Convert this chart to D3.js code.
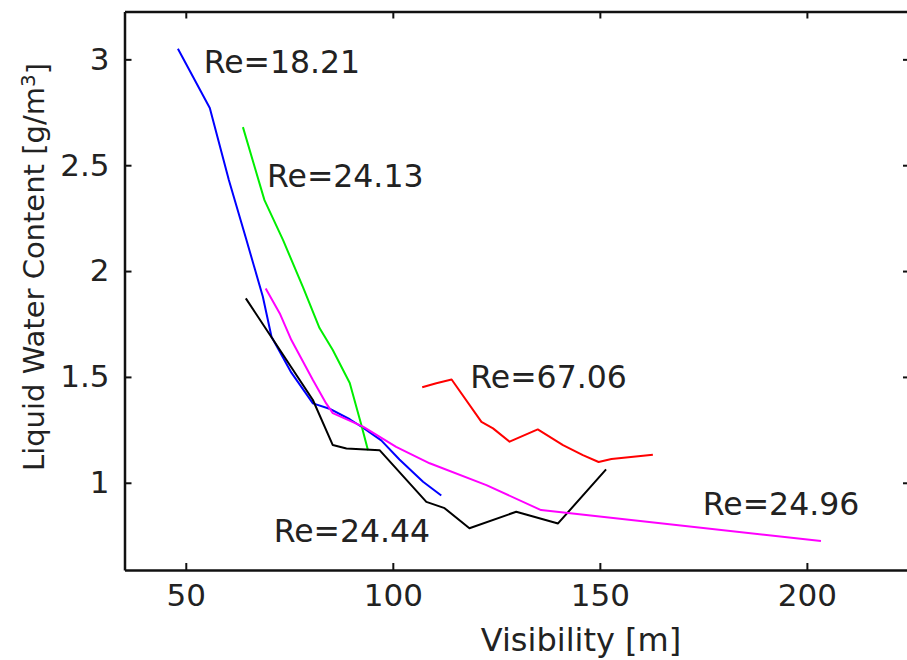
<!DOCTYPE html>
<html>
<head>
<meta charset="utf-8">
<script src="https://cdn.jsdelivr.net/npm/d3@7"></script>
<style>
  html, body { margin: 0; padding: 0; background: #fff; }
  svg { display: block; }
  text { font-family: "DejaVu Sans", sans-serif; fill: #222; }
</style>
</head>
<body>
<div id="chart"></div>
<script>
// ---- data ----
const xTicks = [50, 100, 150, 200];
const yTicks = [1, 1.5, 2, 2.5, 3];
const xTickLabels = ["50", "100", "150", "200"];
const yTickLabels = ["1", "1.5", "2", "2.5", "3"];

const seriesNames = ["Re=18.21", "Re=24.13", "Re=24.44", "Re=24.96", "Re=67.06"];

const visRe1821 = [48.1, 55.8, 60.4, 64.6, 68.6, 70.7, 75.5, 80.7, 84.7, 89.6, 92.8, 97.2, 101.6, 107.3, 111.7];
const lwcRe1821 = [3.05, 2.77, 2.43, 2.15, 1.88, 1.69, 1.52, 1.375, 1.35, 1.30, 1.26, 1.20, 1.11, 1.005, 0.94];

const visRe2413 = [63.8, 69.0, 73.5, 78.3, 82.3, 85.5, 89.6, 92.4, 94.0];
const lwcRe2413 = [2.68, 2.335, 2.146, 1.924, 1.731, 1.627, 1.471, 1.273, 1.154];

const visRe2444 = [64.5, 80.7, 85.5, 88.8, 96.8, 108.1, 112.5, 118.5, 129.8, 139.9, 151.5];
const lwcRe2444 = [1.871, 1.391, 1.178, 1.162, 1.154, 0.91, 0.88, 0.785, 0.863, 0.808, 1.063];

const visRe2496 = [69.3, 72.7, 75.5, 80.7, 83.9, 85.5, 92.8, 100.8, 108.9, 122.6, 135.8, 203.4];
const lwcRe2496 = [1.918, 1.80, 1.674, 1.485, 1.375, 1.329, 1.265, 1.17, 1.092, 0.989, 0.871, 0.725];

const visRe6706 = [107.1, 110.5, 114.2, 121.4, 124.2, 128.2, 135.0, 141.1, 145.9, 149.7, 152.8, 162.8];
const lwcRe6706 = [1.451, 1.47, 1.488, 1.288, 1.257, 1.194, 1.252, 1.178, 1.131, 1.098, 1.112, 1.132];

// annotation anchors in data units (left of text, baseline)
const labelVis = [55.05, 70.35, 71.96, 175.6, 119.45];
const labelLwc = [2.935, 2.397, 0.721, 0.847, 1.446];

const xLabel = "Visibility [m]";
const yLabelMain = "Liquid Water Content [g/m";
const yLabelSup = "3";
const yLabelEnd = "]";

// ---- layout ----
const W = 907, H = 660;
const colors = ["#0000ff", "#00ee00", "#000000", "#ff00ff", "#ff0000"];

const xS = d3.scaleLinear().domain([35.2, 224.9]).range([124.5, 910]);
const yS = d3.scaleLinear().domain([0.588, 3.226]).range([570, 11.5]);

const svg = d3.select("#chart").append("svg")
  .attr("width", W).attr("height", H);

const seriesVis = [visRe1821, visRe2413, visRe2444, visRe2496, visRe6706];
const seriesLwc = [lwcRe1821, lwcRe2413, lwcRe2444, lwcRe2496, lwcRe6706];

const lineGen = d3.line().x(d => xS(d[0])).y(d => yS(d[1]));

// data lines
seriesNames.forEach((name, i) => {
  const pts = seriesVis[i].map((v, j) => [v, seriesLwc[i][j]]);
  svg.append("path")
    .attr("d", lineGen(pts))
    .attr("fill", "none")
    .attr("stroke", colors[i])
    .attr("stroke-width", 2)
    .attr("stroke-linejoin", "round");
});

// axes (box with inward ticks, MATLAB style)
const tickLen = 7;
const axStroke = "#111";
const [xr0, xr1] = xS.range();
const [yr0, yr1] = yS.range();

const gBottom = svg.append("g").attr("transform", `translate(0,${yr0})`)
  .call(d3.axisBottom(xS).tickValues(xTicks).tickSizeInner(-tickLen).tickSizeOuter(0)
    .tickFormat((d, i) => xTickLabels[i]).tickPadding(14));
const gTop = svg.append("g").attr("transform", `translate(0,${yr1})`)
  .call(d3.axisTop(xS).tickValues(xTicks).tickSizeInner(-tickLen).tickSizeOuter(0)
    .tickFormat(""));
const gLeft = svg.append("g").attr("transform", `translate(${xr0},0)`)
  .call(d3.axisLeft(yS).tickValues(yTicks).tickSizeInner(-tickLen).tickSizeOuter(0)
    .tickFormat((d, i) => yTickLabels[i]).tickPadding(15));
const gRight = svg.append("g").attr("transform", `translate(${xr1},0)`)
  .call(d3.axisRight(yS).tickValues(yTicks).tickSizeInner(-tickLen).tickSizeOuter(0)
    .tickFormat(""));

[gBottom, gTop, gLeft, gRight].forEach(g => {
  g.select(".domain").attr("stroke", axStroke).attr("stroke-width", 2.5);
  g.selectAll(".tick line").attr("stroke", axStroke).attr("stroke-width", 2);
  g.selectAll(".tick text").attr("fill", "#222")
    .style("font-family", "'DejaVu Sans', sans-serif").style("font-size", "31px");
});
gBottom.selectAll(".tick text").attr("dy", "0.71em");

// series annotations
seriesNames.forEach((name, i) => {
  svg.append("text")
    .attr("x", xS(labelVis[i]) - 3)
    .attr("y", yS(labelLwc[i]))
    .style("font-size", "31.5px")
    .text(name);
});

// axis titles
svg.append("text")
  .attr("x", 581).attr("y", 651)
  .attr("text-anchor", "middle")
  .style("font-size", "32px")
  .text(xLabel);

const yl = svg.append("text")
  .attr("transform", `translate(43.5,267) rotate(-90)`)
  .attr("text-anchor", "middle")
  .style("font-size", "29px");
yl.append("tspan").text(yLabelMain);
yl.append("tspan").attr("dy", "-0.45em").style("font-size", "20px").text(yLabelSup);
yl.append("tspan").attr("dy", "0.45em").text(yLabelEnd);
</script>
</body>
</html>
